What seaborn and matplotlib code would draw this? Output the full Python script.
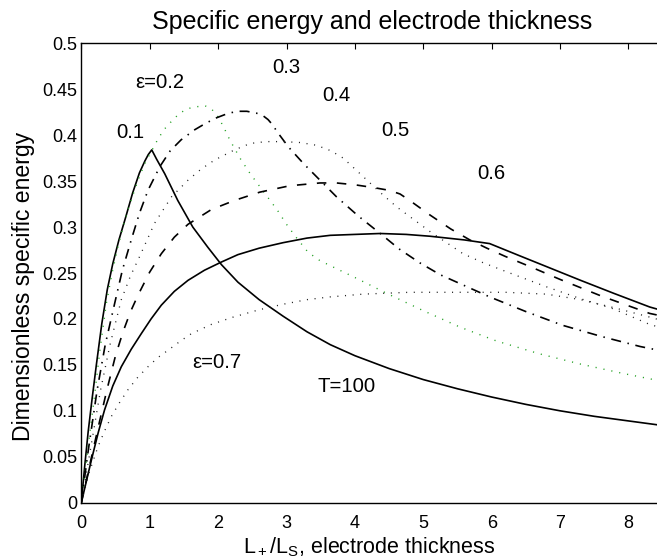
import matplotlib
matplotlib.use("Agg")
import matplotlib.pyplot as plt
import seaborn as sns
import pandas as pd

# ---- data ----
eps01_x = [0, 0.05, 0.1, 0.156, 0.22, 0.3, 0.38, 0.46, 0.55, 0.65, 0.75, 0.85, 0.93, 0.98, 1.03, 1.1, 1.22, 1.41, 1.63, 1.85, 2.05, 2.29, 2.6, 2.95, 3.3, 3.64, 4.0, 4.5, 5.0, 5.5, 6.0, 6.5, 7.0, 7.5, 8.0, 8.5]
eps01_y = [0, 0.040, 0.077, 0.112, 0.150, 0.195, 0.232, 0.260, 0.286, 0.311, 0.337, 0.359, 0.372, 0.379, 0.384, 0.374, 0.358, 0.329, 0.300, 0.278, 0.259, 0.240, 0.221, 0.203, 0.186, 0.172, 0.160, 0.146, 0.134, 0.124, 0.115, 0.107, 0.100, 0.094, 0.089, 0.084]

eps02_x = [0, 0.09, 0.186, 0.27, 0.366, 0.45, 0.537, 0.61, 0.683, 0.76, 0.829, 0.927, 1.05, 1.13, 1.22, 1.33, 1.44, 1.56, 1.69, 1.81, 1.91, 2.0, 2.08, 2.17, 2.32, 2.47, 2.61, 2.73, 2.87, 3.0, 3.15, 3.3, 3.45, 3.64, 4.03, 4.46, 5.0, 5.54, 6.07, 6.7, 7.29, 7.9, 8.5]
eps02_y = [0, 0.055, 0.112, 0.165, 0.217, 0.250, 0.279, 0.300, 0.319, 0.336, 0.351, 0.369, 0.386, 0.397, 0.407, 0.416, 0.424, 0.429, 0.431, 0.432, 0.428, 0.420, 0.409, 0.395, 0.375, 0.358, 0.344, 0.332, 0.318, 0.303, 0.288, 0.274, 0.265, 0.258, 0.244, 0.228, 0.209, 0.191, 0.176, 0.162, 0.151, 0.141, 0.132]

eps03_x = [0, 0.1, 0.23, 0.35, 0.488, 0.6, 0.73, 0.85, 0.975, 1.15, 1.3, 1.46, 1.66, 1.82, 1.98, 2.12, 2.27, 2.42, 2.56, 2.66, 2.73, 2.8, 2.86, 3.03, 3.25, 3.49, 3.73, 4.05, 4.37, 4.65, 4.95, 5.25, 5.58, 5.97, 6.5, 7.04, 7.6, 8.17, 8.5]
eps03_y = [0, 0.056, 0.122, 0.172, 0.217, 0.253, 0.286, 0.315, 0.340, 0.366, 0.383, 0.395, 0.406, 0.413, 0.419, 0.423, 0.426, 0.426, 0.424, 0.421, 0.417, 0.411, 0.404, 0.387, 0.369, 0.351, 0.333, 0.312, 0.293, 0.276, 0.261, 0.248, 0.237, 0.224, 0.208, 0.193, 0.181, 0.170, 0.165]

eps04_x = [0, 0.12, 0.28, 0.42, 0.585, 0.72, 0.853, 1.07, 1.32, 1.56, 1.75, 1.95, 2.24, 2.47, 2.7, 2.95, 3.2, 3.44, 3.65, 3.83, 4.12, 4.35, 4.61, 5.1, 5.58, 5.88, 6.3, 6.8, 7.3, 7.78, 8.31, 8.5]
eps04_y = [0, 0.052, 0.122, 0.172, 0.221, 0.247, 0.268, 0.304, 0.333, 0.351, 0.363, 0.373, 0.384, 0.391, 0.393, 0.393, 0.392, 0.389, 0.383, 0.375, 0.355, 0.339, 0.322, 0.295, 0.271, 0.261, 0.249, 0.235, 0.222, 0.211, 0.194, 0.190]

eps05_x = [0, 0.12, 0.25, 0.375, 0.5, 0.61, 0.72, 0.83, 1.0, 1.17, 1.36, 1.56, 1.9, 2.24, 2.61, 3.05, 3.49, 3.73, 4.0, 4.27, 4.5, 4.66, 4.8, 5.1, 5.4, 5.68, 5.93, 6.2, 6.56, 7.0, 7.6, 8.31, 8.5]
eps05_y = [0, 0.040, 0.083, 0.123, 0.160, 0.186, 0.208, 0.226, 0.251, 0.271, 0.289, 0.303, 0.319, 0.329, 0.338, 0.345, 0.348, 0.348, 0.346, 0.343, 0.340, 0.336, 0.329, 0.313, 0.298, 0.286, 0.277, 0.268, 0.257, 0.243, 0.225, 0.206, 0.203]

eps06_x = [0, 0.146, 0.25, 0.34, 0.46, 0.585, 0.73, 0.877, 1.02, 1.17, 1.36, 1.56, 1.8, 2.05, 2.29, 2.6, 2.95, 3.3, 3.64, 4.0, 4.37, 4.75, 5.1, 5.6, 5.97, 6.4, 6.8, 7.3, 7.78, 8.31, 8.5]
eps06_y = [0, 0.046, 0.077, 0.101, 0.127, 0.148, 0.167, 0.184, 0.200, 0.215, 0.230, 0.242, 0.253, 0.262, 0.270, 0.277, 0.283, 0.288, 0.291, 0.292, 0.293, 0.292, 0.290, 0.286, 0.282, 0.269, 0.257, 0.242, 0.228, 0.213, 0.209]

eps07_x = [0, 0.12, 0.244, 0.34, 0.44, 0.56, 0.683, 0.82, 0.975, 1.12, 1.27, 1.45, 1.61, 1.9, 2.22, 2.6, 2.95, 3.3, 3.64, 4.12, 4.8, 5.58, 6.2, 6.8, 7.3, 7.8, 8.31, 8.5]
eps07_y = [0, 0.034, 0.061, 0.078, 0.094, 0.109, 0.123, 0.136, 0.148, 0.158, 0.166, 0.176, 0.184, 0.194, 0.202, 0.210, 0.216, 0.221, 0.224, 0.227, 0.229, 0.229, 0.229, 0.227, 0.221, 0.212, 0.202, 0.198]

x_ticks = [0, 1, 2, 3, 4, 5, 6, 7, 8]
x_ticklabels = ["0", "1", "2", "3", "4", "5", "6", "7", "8"]
y_ticks = [0, 0.05, 0.1, 0.15, 0.2, 0.25, 0.3, 0.35, 0.4, 0.45, 0.5]
y_ticklabels = ["0", "0.05", "0.1", "0.15", "0.2", "0.25", "0.3", "0.35", "0.4", "0.45", "0.5"]

labels_text = ["ε=0.2", "0.1", "0.3", "0.4", "0.5", "0.6", "ε=0.7", "T=100"]
labels_x = [0.785, 0.51, 2.79, 3.52, 4.39, 5.79, 1.62, 3.46]
labels_y = [0.457, 0.403, 0.474, 0.443, 0.405, 0.358, 0.153, 0.127]

title = "Specific energy and electrode thickness"
xlabel = "L$_+$/L$_S$, electrode thickness"
ylabel = "Dimensionless specific energy"

# ---- style ----
sns.set_theme(style="white")
plt.rcParams["font.family"] = ["Liberation Sans", "DejaVu Sans"]
plt.rcParams["mathtext.fontset"] = "custom"
plt.rcParams["mathtext.rm"] = "Liberation Sans"
plt.rcParams["mathtext.it"] = "Liberation Sans"
plt.rcParams["mathtext.default"] = "regular"

W, H = 657, 558
fig = plt.figure(figsize=(W / 100, H / 100), dpi=100)
ax = fig.add_axes([81.3 / W, 55.3 / H, 581.4 / W, 459.4 / H])

lw = 1.2
green = "#22a022"
dot = (0, (0.8, 5.0))
series = [
    (eps01_x, eps01_y, "black", "-", lw),
    (eps02_x, eps02_y, green, dot, 1.0),
    (eps03_x, eps03_y, "black", (0, (6.0, 4.0, 0.9, 4.0)), lw),
    (eps04_x, eps04_y, "#222222", dot, 0.95),
    (eps05_x, eps05_y, "black", (0, (5.7, 6.3)), lw),
    (eps06_x, eps06_y, "black", "-", lw),
    (eps07_x, eps07_y, "#222222", dot, 0.95),
]
for xs, ys, c, ls, w in series:
    df = pd.DataFrame({"x": xs, "y": ys})
    sns.lineplot(data=df, x="x", y="y", ax=ax, color=c, linestyle=ls,
                 linewidth=w, estimator=None, sort=False, legend=False)

for t, x, y in zip(labels_text, labels_x, labels_y):
    ax.text(x, y, t, fontsize=14.6, ha="left", va="center", color="black")

ax.set_xlim(0, 8.5)
ax.set_ylim(0, 0.5)
ax.set_xticks(x_ticks)
ax.set_xticklabels(x_ticklabels)
ax.set_yticks(y_ticks)
ax.set_yticklabels(y_ticklabels)
ax.tick_params(axis="both", which="both", direction="in", length=4.3, width=0.8,
               colors="black", labelsize=13, top=True, right=True)
ax.tick_params(axis="y", pad=2.9)
ax.tick_params(axis="x", pad=8.5)
for s in ax.spines.values():
    s.set_visible(True)
    s.set_color("black")
    s.set_linewidth(1.0)

ax.set_title(title, fontsize=18, pad=10.5, color="black")
ax.set_xlabel(xlabel, fontsize=15.5, color="black")
ax.set_ylabel(ylabel, fontsize=16.6, color="black")
ax.xaxis.set_label_coords(0.495, -0.071)
ax.yaxis.set_label_coords(-0.080, 0.4706)

fig.savefig("out.png", dpi=100)
